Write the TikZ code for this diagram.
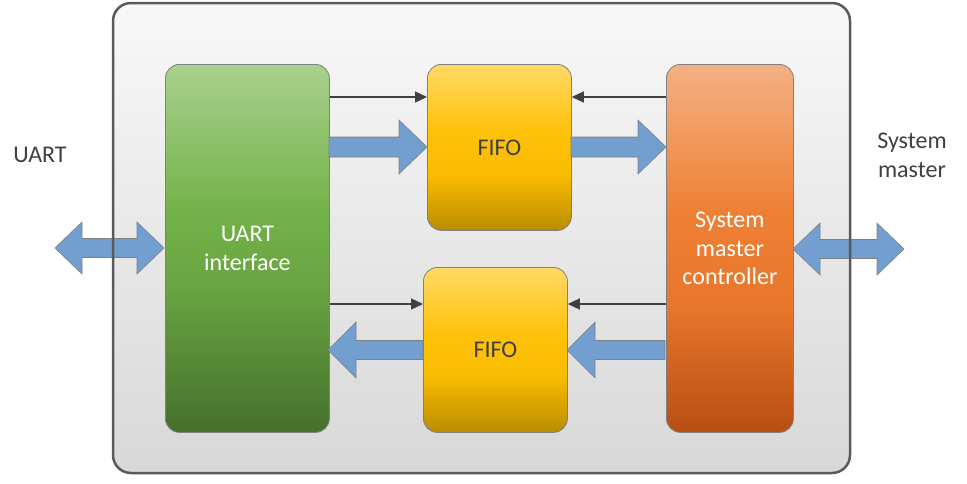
\documentclass[tikz,border=0pt]{standalone}
\usepackage{fontspec}
\setmainfont{Carlito}
\usetikzlibrary{arrows.meta}
\definecolor{txt}{RGB}{64,64,64}
\definecolor{bord}{RGB}{128,128,128}
\definecolor{outerb}{RGB}{90,90,90}
\definecolor{barw}{RGB}{114,159,207}
\definecolor{bgtop}{RGB}{248,248,248}
\definecolor{bgbot}{RGB}{216,216,216}
\pgfdeclareverticalshading{greenshade}{100bp}{%
  color(0bp)=(rgb,255:red,70;green,112;blue,44);
  color(25bp)=(rgb,255:red,70;green,112;blue,44);
  color(45bp)=(rgb,255:red,105;green,165;blue,66);
  color(55bp)=(rgb,255:red,115;green,178;blue,72);
  color(75bp)=(rgb,255:red,169;green,209;blue,142);
  color(100bp)=(rgb,255:red,169;green,209;blue,142)}
\pgfdeclareverticalshading{yellowshade}{100bp}{%
  color(0bp)=(rgb,255:red,185;green,140;blue,0);
  color(25bp)=(rgb,255:red,185;green,140;blue,0);
  color(42bp)=(rgb,255:red,250;green,188;blue,0);
  color(55bp)=(rgb,255:red,255;green,194;blue,10);
  color(75bp)=(rgb,255:red,255;green,217;blue,102);
  color(100bp)=(rgb,255:red,255;green,217;blue,102)}
\pgfdeclareverticalshading{orangeshade}{100bp}{%
  color(0bp)=(rgb,255:red,183;green,78;blue,18);
  color(25bp)=(rgb,255:red,183;green,78;blue,18);
  color(42bp)=(rgb,255:red,232;green,118;blue,44);
  color(55bp)=(rgb,255:red,238;green,128;blue,52);
  color(75bp)=(rgb,255:red,244;green,177;blue,131);
  color(100bp)=(rgb,255:red,244;green,177;blue,131)}
\tikzset{
  blk/.style={rounded corners=14pt, draw=bord, line width=0.8pt, anchor=north west,
    font=\fontsize{24}{28.5}\selectfont, text=white, align=center, inner sep=0pt},
  greenblk/.style={blk, shading=greenshade},
  yellowblk/.style={blk, shading=yellowshade, text=txt},
  orangeblk/.style={blk, shading=orangeshade},
  barrow/.style={fill=barw, draw=bord, line width=0.6pt},
  thin/.style={draw=txt, line width=1.4pt, -{Triangle[length=12pt,width=11pt]}},
  lbl/.style={font=\fontsize{24}{29}\selectfont, text=txt, align=center},
}
\newcommand\blockR[3]{\draw[barrow] (#1,#3-10) -- (#2-28,#3-10) -- (#2-28,#3-27) -- (#2,#3) -- (#2-28,#3+27) -- (#2-28,#3+10) -- (#1,#3+10) -- cycle;}
\newcommand\blockL[3]{\draw[barrow] (#1,#3-9.5) -- (#2+28,#3-9.5) -- (#2+28,#3-28) -- (#2,#3) -- (#2+28,#3+28) -- (#2+28,#3+9.5) -- (#1,#3+9.5) -- cycle;}
\newcommand\blockD[3]{\draw[barrow] (#1,#3) -- (#1+27,#3-26) -- (#1+27,#3-9.5) -- (#2-27,#3-9.5) -- (#2-27,#3-26) -- (#2,#3) -- (#2-27,#3+26) -- (#2-27,#3+9.5) -- (#1+27,#3+9.5) -- (#1+27,#3+26) -- cycle;}
\begin{document}
\begin{tikzpicture}[x=1pt,y=-1pt]
\useasboundingbox (0,0) rectangle (967,483);
% outer box fill
\path[rounded corners=18pt, top color=bgtop, bottom color=bgbot] (113,3) rectangle (850,473);
% external double arrows
\blockD{55}{164}{248}
\blockD{793}{904}{249}
% outer border
\draw[rounded corners=18pt, draw=outerb, line width=2.5pt] (113,3) rectangle (850,473);
% blocks
\node[greenblk, minimum width=164pt, minimum height=368pt] (uart) at (165,64) {UART\\interface};
\node[yellowblk, minimum width=144pt, minimum height=166pt] (fifo1) at (427,64) {FIFO};
\node[yellowblk, minimum width=144pt, minimum height=165pt] (fifo2) at (423,267) {FIFO};
\node[orangeblk, minimum width=127pt, minimum height=368pt] (smc) at (666,64) {System\\master\\controller};
% thin arrows
\draw[thin] (uart.east |- 0,97) -- (fifo1.west |- 0,97);
\draw[thin] (smc.west |- 0,97) -- (fifo1.east |- 0,97);
\draw[thin] (uart.east |- 0,304) -- (fifo2.west |- 0,304);
\draw[thin] (smc.west |- 0,304) -- (fifo2.east |- 0,304);
% block arrows
\blockR{329}{427}{147}
\blockR{571}{666}{147}
\blockL{423}{328}{350}
\blockL{665}{567}{350}
% labels
\node[lbl] (luart) at (40,155) {UART};
\node[lbl] (lsys) at (912,155) {System\\master};
\end{tikzpicture}
\end{document}
